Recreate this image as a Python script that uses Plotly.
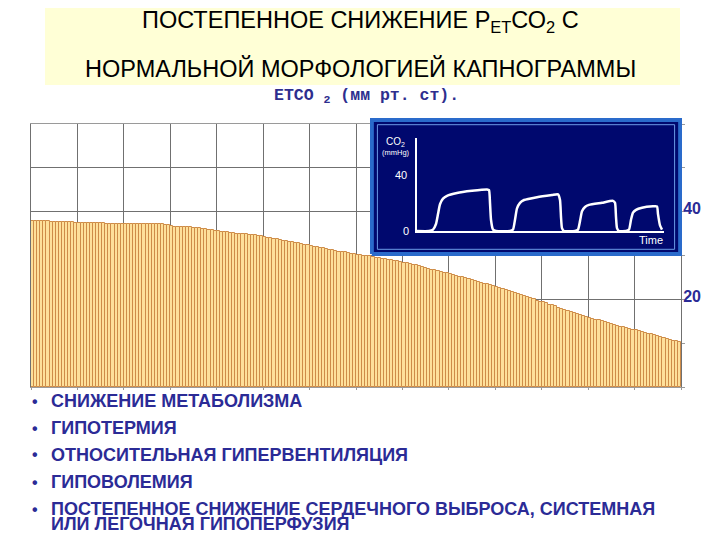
import plotly.graph_objects as go

# ---------------- data ----------------
etco2_values = [
    37.8, 37.8, 37.8, 37.9, 37.8, 37.8, 37.7, 37.7, 37.7, 37.6, 37.6, 37.6, 37.6, 37.6, 37.5,
    37.5, 37.5, 37.5, 37.5, 37.5, 37.5, 37.5, 37.5, 37.4, 37.3, 37.2, 37.2, 37.2, 37.2, 37.2,
    37.2, 37.2, 37.2, 37.2, 37.2, 37.2, 37.2, 37.2, 37.2, 37.1, 37.1, 37.1, 37.1, 37.0, 36.9,
    36.7, 36.6, 36.6, 36.5, 36.5, 36.4, 36.4, 36.3, 36.2, 36.2, 36.1, 36.0, 35.9, 35.8, 35.7,
    35.5, 35.4, 35.3, 35.3, 35.2, 35.1, 35.0, 35.0, 34.9, 34.8, 34.7, 34.7, 34.6, 34.5, 34.4,
    34.3, 34.1, 34.0, 33.8, 33.7, 33.5, 33.4, 33.2, 33.1, 33.0, 32.9, 32.8, 32.6, 32.5, 32.3,
    32.2, 32.0, 31.9, 31.7, 31.6, 31.5, 31.3, 31.2, 31.1, 30.9, 30.8, 30.7, 30.5, 30.4, 30.3,
    30.2, 30.1, 30.0, 29.9, 29.8, 29.7, 29.5, 29.4, 29.3, 29.2, 29.0, 28.9, 28.8, 28.7, 28.5,
    28.4, 28.3, 28.1, 27.9, 27.8, 27.6, 27.4, 27.2, 27.0, 26.8, 26.7, 26.5, 26.3, 26.1, 25.9,
    25.8, 25.6, 25.4, 25.2, 25.0, 24.8, 24.6, 24.4, 24.2, 24.0, 23.8, 23.6, 23.4, 23.2, 23.0,
    22.8, 22.6, 22.4, 22.2, 21.9, 21.7, 21.4, 21.2, 21.0, 20.7, 20.5, 20.2, 20.0, 19.7, 19.5,
    19.3, 19.1, 18.8, 18.6, 18.4, 18.1, 17.9, 17.6, 17.4, 17.2, 16.9, 16.7, 16.5, 16.2, 16.0,
    15.8, 15.6, 15.4, 15.2, 15.0, 14.8, 14.6, 14.4, 14.2, 14.0, 13.8, 13.7, 13.5, 13.3, 13.1,
    13.0, 12.8, 12.6, 12.4, 12.2, 12.0, 11.8, 11.6, 11.4, 11.2, 11.0, 10.8, 10.6, 10.4, 10.3,
]
bar_index = [i + 0.5 for i in range(len(etco2_values))]

y_tick_values = [20, 40]
y_tick_labels = ["<b>20</b>", "<b>40</b>"]

# inset capnogram waveform (time units, CO2 mmHg)
capno_time = [0, 12, 16, 19, 21, 23, 26, 30, 40, 55, 70, 72, 73, 74, 76, 79,
              93, 96, 98, 100, 103, 107, 120, 135, 141, 143, 144, 145, 147,
              158, 161, 163, 165, 168, 172, 185, 196, 198, 199, 200, 202,
              209, 212, 214, 216, 219, 225, 236, 240, 241, 243, 245]
capno_co2 = [0, 0, 1, 5, 12, 19, 23, 25, 27, 28.5, 29.5, 29, 20, 8, 1, 0,
             0, 1, 8, 16, 20, 22, 24, 25.5, 26, 22, 10, 2, 0,
             0, 1, 7, 14, 17, 18.5, 20, 21.4, 20, 10, 2, 0,
             0, 1, 8, 13, 15, 16.5, 17.5, 17.5, 12, 4, 1]

title_line1 = "ПОСТЕПЕННОЕ СНИЖЕНИЕ Р<sub>ЕТ</sub>СО<sub>2</sub> С"
title_line2 = "НОРМАЛЬНОЙ МОРФОЛОГИЕЙ КАПНОГРАММЫ"
axis_label = "ETCO <sub>2</sub> (мм рт. ст)."
bullet_items = [
    "СНИЖЕНИЕ МЕТАБОЛИЗМА",
    "ГИПОТЕРМИЯ",
    "ОТНОСИТЕЛЬНАЯ ГИПЕРВЕНТИЛЯЦИЯ",
    "ГИПОВОЛЕМИЯ",
    "ПОСТЕПЕННОЕ СНИЖЕНИЕ СЕРДЕЧНОГО ВЫБРОСА, СИСТЕМНАЯ",
]
bullet_continuation = "ИЛИ ЛЕГОЧНАЯ ГИПОПЕРФУЗИЯ"

# ---------------- geometry helpers (window pixel -> paper) ----------------
W, H = 720, 540
OFF = 8  # page body margin


def px(x):
    return (x - OFF) / W


def py(y):
    return (H - (y - OFF)) / H


fig = go.Figure()

# main bars
fig.add_trace(go.Bar(
    x=bar_index, y=etco2_values, width=1,
    marker=dict(color="#FEE09A", line=dict(color="#CE8C48", width=1)),
    xaxis="x", yaxis="y", hoverinfo="skip", showlegend=False,
))

# inset box (navy panel) as filled trace on its own subplot
fig.add_trace(go.Scatter(
    x=[0, 1, 1, 0, 0], y=[0, 0, 1, 1, 0], mode="lines", fill="toself",
    fillcolor="#00086E", line=dict(color="#2A6BCB", width=4),
    xaxis="x2", yaxis="y2", hoverinfo="skip", showlegend=False,
))
fig.add_trace(go.Scatter(
    x=[0.018, 0.982, 0.982, 0.018, 0.018], y=[0.035, 0.035, 0.965, 0.965, 0.035],
    mode="lines", line=dict(color="#6A9BE6", width=1),
    xaxis="x2", yaxis="y2", hoverinfo="skip", showlegend=False,
))

# capnogram waveform
fig.add_trace(go.Scatter(
    x=capno_time, y=capno_co2, mode="lines",
    line=dict(color="white", width=2.5, shape="spline", smoothing=0.5),
    xaxis="x3", yaxis="y3", hoverinfo="skip", showlegend=False,
))

grid_col = "#707070"
fig.update_layout(
    width=W, height=H,
    margin=dict(l=0, r=0, t=0, b=0, pad=0),
    paper_bgcolor="white", plot_bgcolor="rgba(0,0,0,0)",
    bargap=0,
    xaxis=dict(domain=[px(31), px(681)], range=[0, len(etco2_values)], tick0=0, dtick=15,
               showticklabels=False,
               showgrid=True, gridcolor=grid_col, gridwidth=1, zeroline=False,
               showline=True, linecolor="#9a9a9a", mirror=True,
               ticks="outside", ticklen=2, tickcolor="#9a9a9a"),
    yaxis=dict(domain=[py(387), py(124)], range=[0, 60], tickvals=y_tick_values,
               ticktext=y_tick_labels, side="right",
               showgrid=True, gridcolor=grid_col, gridwidth=1, zeroline=False,
               showline=True, linecolor=grid_col, mirror=True,
               ticks="outside", ticklen=3, tickcolor="#9a9a9a",
               tickfont=dict(family="Liberation Sans, Arial", size=16, color="#2B2B96"),
               ticklabelstandoff=-5, ticklabelshift=-3,
               minor=dict(tick0=0, dtick=10, showgrid=True, gridcolor=grid_col,
                          gridwidth=1, ticks="outside", ticklen=3, tickcolor="#9a9a9a")),
    xaxis2=dict(domain=[px(370), px(682)], range=[-0.006, 1.006], visible=False,
                fixedrange=True, anchor="y2"),
    yaxis2=dict(domain=[py(256), py(118)], range=[-0.015, 1.015], visible=False,
                fixedrange=True, anchor="x2"),
    xaxis3=dict(domain=[px(417), px(664)], range=[0, 247], showgrid=False, zeroline=False,
                showline=True, linecolor="white", linewidth=1.5, showticklabels=False,
                ticks="", anchor="y3"),
    yaxis3=dict(domain=[py(231), py(138)], range=[0, 66], showgrid=False, zeroline=False,
                showline=True, linecolor="white", linewidth=1.5, showticklabels=False,
                ticks="", anchor="x3"),
    font=dict(family="Liberation Sans, Arial", color="black"),
)

# title box
fig.add_shape(type="rect", xref="paper", yref="paper",
              x0=px(45), x1=px(680), y0=py(85), y1=py(8),
              fillcolor="#FFFFD6", line=dict(width=0), layer="below")


def note(text, x, y, size, color, family, xanchor="center"):
    return dict(text=text, x=px(x), y=py(y), xref="paper", yref="paper",
                xanchor=xanchor, yanchor="middle", showarrow=False,
                font=dict(size=size, color=color, family=family))


ann = []
ann.append(note(title_line1, 360, 22, 23.5, "black", "Liberation Sans, Arial"))
ann.append(note(title_line2, 360, 68, 23.5, "black", "Liberation Sans, Arial"))
ann.append(note("<b>" + axis_label + "</b>", 366, 96, 16.5, "#2E2E8E",
                "Liberation Mono, Courier New, monospace"))

# inset texts
inset_fam = "Liberation Sans, Arial"
ann.append(note("CO<sub>2</sub>", 395, 142, 10, "white", inset_fam))
ann.append(note("(mmHg)", 396, 152, 7.5, "white", inset_fam))
ann.append(note("40", 401, 175, 11, "white", inset_fam))
ann.append(note("0", 406, 231, 11, "white", inset_fam))
ann.append(note("Time", 651, 240, 11, "white", inset_fam))

# bullet list
bullet_fam = "Liberation Sans, Arial"
bullet_col = "#2B2B96"
bullet_y = [401, 428, 455, 482, 509]
for text, yy in zip(bullet_items, bullet_y):
    ann.append(note("<b>•</b>", 35, yy, 16, bullet_col, bullet_fam))
    ann.append(note("<b>" + text + "</b>", 49, yy, 18, bullet_col, bullet_fam, "left"))
ann.append(note("<b>" + bullet_continuation + "</b>", 49, 524, 18, bullet_col, bullet_fam,
                "left"))

fig.update_layout(annotations=ann)

fig.write_html("out.html")
